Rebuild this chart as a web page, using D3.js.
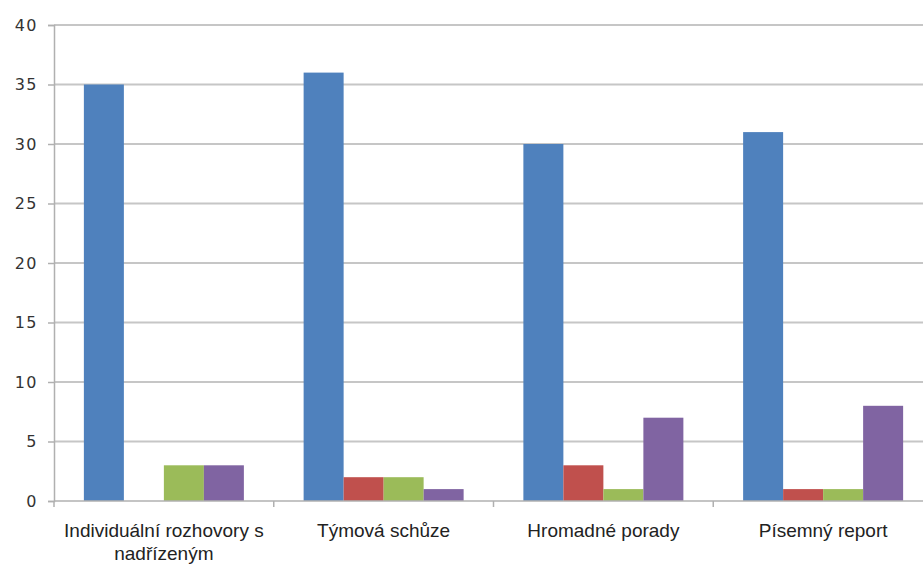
<!DOCTYPE html>
<html><head><meta charset="utf-8">
<script src="https://cdn.jsdelivr.net/npm/d3@7"></script>
<style>body{margin:0;background:#fff}svg{display:block}</style>
</head><body>
<svg id="c" width="923" height="565"></svg>
<script>
const categories = [["Individuální rozhovory s","nadřízeným"],["Týmová schůze"],["Hromadné porady"],["Písemný report"]];
const seriesNames = ["S1","S2","S3","S4"];
const colors = ["#4F81BD","#C0504D","#9BBB59","#8064A2"];
const s1 = [35,36,30,31];
const s2 = [0,2,3,1];
const s3 = [3,2,1,1];
const s4 = [3,1,7,8];
const yTicks = [0,5,10,15,20,25,30,35,40];
const series = [s1,s2,s3,s4];

(function(){
const svg = d3.select("#c");
const mLeft = 54, mRight = 933, mTop = 25, mBottom = 501;
const x = d3.scaleBand().domain(d3.range(categories.length)).range([mLeft,mRight]).paddingInner(0).paddingOuter(0);
const y = d3.scaleLinear().domain([0,40]).range([mBottom,mTop]);
const font = "'Liberation Sans',Arial,sans-serif";

svg.append("g").selectAll("line").data(yTicks.filter(d=>d>0)).join("line")
  .attr("x1",mLeft).attr("x2",mRight).attr("y1",d=>y(d)).attr("y2",d=>y(d))
  .attr("stroke","#c6c6c6").attr("stroke-width",2);

const inner = x.bandwidth();
const barW = 40;
const groupPad = (inner - barW*4)/2;
series.forEach((s,si)=>{
  svg.append("g").selectAll("rect").data(s).join("rect")
    .attr("x",(d,i)=>x(i)+groupPad+si*barW)
    .attr("y",d=>y(d)).attr("width",barW).attr("height",d=>mBottom-y(d))
    .attr("fill",colors[si]);
});

const ya = svg.append("g").attr("transform",`translate(${mLeft},0)`)
  .call(d3.axisLeft(y).tickValues(yTicks).tickSize(6).tickPadding(10));
ya.select(".domain").attr("stroke","#b0b0b0").attr("stroke-width",1.5);
ya.selectAll(".tick line").attr("stroke","#b0b0b0").attr("stroke-width",1.5);
ya.selectAll("text").attr("font-family","'DejaVu Sans',sans-serif").attr("font-size",16)
  .attr("letter-spacing","1.5px").attr("fill","#333");

svg.append("line").attr("x1",mLeft).attr("x2",mRight).attr("y1",mBottom).attr("y2",mBottom)
  .attr("stroke","#b0b0b0").attr("stroke-width",1.5);
svg.append("g").selectAll("line").data(d3.range(categories.length+1)).join("line")
  .attr("x1",i=>mLeft+i*inner).attr("x2",i=>mLeft+i*inner)
  .attr("y1",mBottom).attr("y2",mBottom+6).attr("stroke","#b0b0b0").attr("stroke-width",1.5);

const lbl = svg.append("g").selectAll("text").data(categories).join("text")
  .attr("x",(d,i)=>x(i)+inner/2).attr("y",537)
  .attr("text-anchor","middle").attr("font-family",font).attr("font-size",19).attr("fill","#222");
lbl.each(function(d){
  const t = d3.select(this);
  d.forEach((line,k)=>t.append("tspan").attr("x",t.attr("x")).attr("dy",k===0?0:23).text(line));
});
})();
</script>
</body></html>
